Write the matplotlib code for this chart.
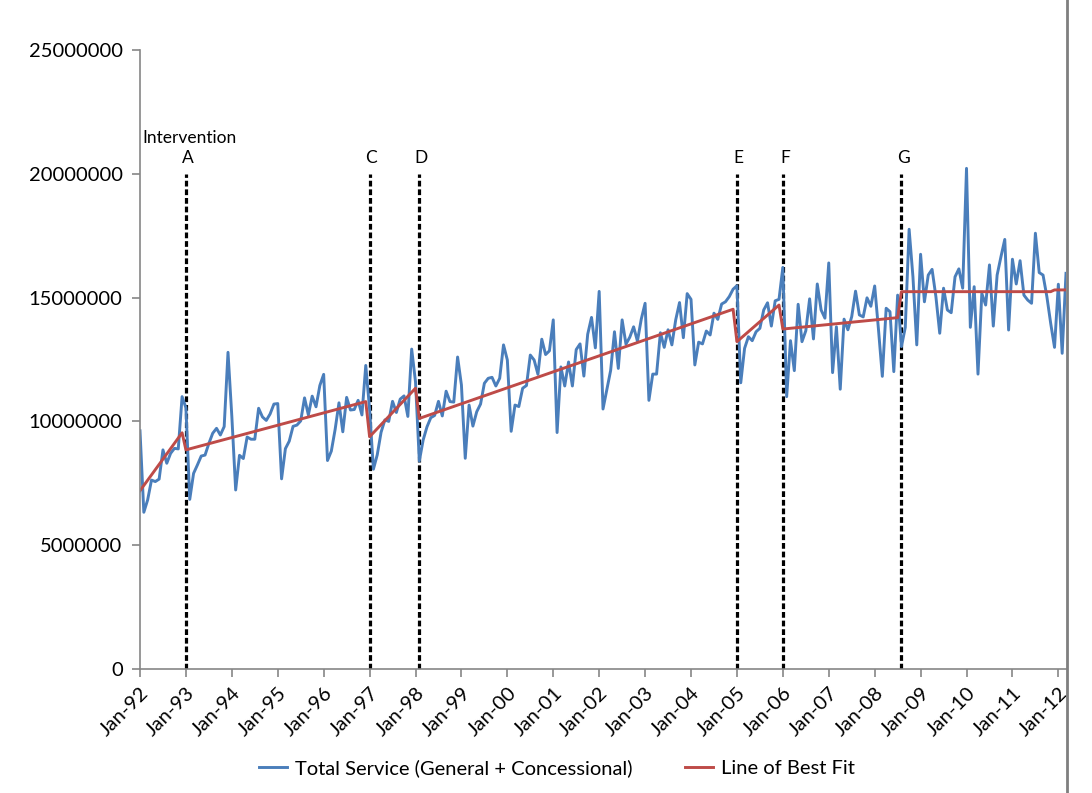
import matplotlib
matplotlib.use('Agg')
import matplotlib.pyplot as plt, numpy as np
from matplotlib.lines import Line2D

plt.rcParams['font.family'] = ['Lato', 'DejaVu Sans']

# monthly totals, Jan-92 .. Mar-12 (millions)
total_service = [
    9.62, 6.33, 6.83, 7.63, 7.57, 7.67, 8.85, 8.31, 8.71, 8.91, 8.89, 11.0,
    10.55, 6.85, 7.90, 8.24, 8.60, 8.64, 9.11, 9.52, 9.72, 9.45, 9.79, 12.79,
    10.2, 7.23, 8.63, 8.50, 9.37, 9.28, 9.28, 10.53, 10.18, 10.04, 10.3, 10.7,
    10.72, 7.68, 8.9, 9.2, 9.8, 9.85, 10.02, 10.95, 10.26, 11.02, 10.59, 11.45,
    11.9, 8.42, 8.8, 9.68, 10.75, 9.58, 10.97, 10.46, 10.48, 10.85, 10.26, 12.26,
    10.5, 8.07, 8.65, 9.56, 10.06, 10.0, 10.81, 10.36, 10.9, 11.03, 10.2, 12.92,
    11.6, 8.4, 9.25, 9.78, 10.15, 10.24, 10.81, 10.22, 11.22, 10.8, 10.78, 12.6,
    11.47, 8.51, 10.66, 9.81, 10.39, 10.70, 11.54, 11.74, 11.78, 11.43, 11.74, 13.09,
    12.48, 9.6, 10.66, 10.6, 11.34, 11.45, 12.68, 12.48, 11.9, 13.32, 12.7, 12.85,
    14.10, 9.55, 12.2, 11.43, 12.4, 11.43, 12.9, 13.13, 11.83, 13.52, 14.2, 12.97,
    15.25, 10.5, 11.27, 12.06, 13.62, 12.14, 14.10, 13.12, 13.4, 13.82, 13.24, 14.13,
    14.77, 10.85, 11.91, 11.91, 13.58, 12.99, 13.7, 13.09, 14.10, 14.8, 13.38, 15.16,
    14.93, 12.28, 13.2, 13.13, 13.65, 13.49, 14.37, 14.12, 14.74, 14.83, 15.04, 15.34,
    15.48, 11.56, 12.95, 13.42, 13.26, 13.62, 13.76, 14.50, 14.79, 13.85, 14.87, 14.93,
    16.22, 11.0, 13.26, 12.05, 14.73, 13.22, 13.66, 14.95, 13.33, 15.55, 14.50, 14.17,
    16.4, 11.97, 13.82, 11.30, 14.13, 13.7, 14.23, 15.26, 14.30, 14.22, 14.99, 14.65,
    15.47, 13.7, 11.82, 14.57, 14.43, 12.01, 15.10, 13.02, 13.8, 17.76, 15.84, 13.09,
    16.75, 14.83, 15.91, 16.14, 15.04, 13.56, 15.38, 14.5, 14.39, 15.84, 16.16, 15.38,
    20.22, 13.80, 15.44, 11.91, 15.17, 14.70, 16.32, 13.85, 15.91, 16.65, 17.35, 13.69,
    16.55, 15.55, 16.49, 15.10, 14.90, 14.77, 17.60, 16.01, 15.91, 15.04, 13.96, 12.99,
    15.54, 12.75, 15.98,
]

# segmented trend: break points (month index) and fitted values (millions)
fit_month = [0, 11, 12, 59, 60, 72, 73, 155, 156, 167, 168, 198, 199, 238, 239, 242]
fit_value = [7.20, 9.54, 8.85, 10.80, 9.38, 11.34, 10.12, 14.53, 13.22, 14.70,
             13.73, 14.19, 15.24, 15.24, 15.31, 15.31]

interv_labels = ['A', 'C', 'D', 'E', 'F', 'G']
interv_month = [12, 60, 73, 156, 168, 199]

tick_labels = ['Jan-92', 'Jan-93', 'Jan-94', 'Jan-95', 'Jan-96', 'Jan-97', 'Jan-98',
               'Jan-99', 'Jan-00', 'Jan-01', 'Jan-02', 'Jan-03', 'Jan-04', 'Jan-05',
               'Jan-06', 'Jan-07', 'Jan-08', 'Jan-09', 'Jan-10', 'Jan-11', 'Jan-12']

y = np.array(total_service) * 1e6
x = np.arange(len(y))

fig = plt.figure(figsize=(10.92, 7.93), dpi=100)
ax = fig.add_axes([140/1092, 124/793, 926/1092, 619/793])

ax.plot(x, y, color='#4A7EBB', lw=2.1, label='Total Service (General + Concessional)')
ax.plot(fit_month, np.array(fit_value) * 1e6, color='#BE4B48', lw=2.1,
        label='Line of Best Fit')

for lab, m in zip(interv_labels, interv_month):
    ax.plot([m, m], [0, 20.0e6], color='black', lw=2.3, ls=(0, (1.8, 0.9)), zorder=1)
    ax.text(m + 0.5, 20.65e6, lab, ha='center', va='center', fontsize=12.5)
ax.text(13.0, 21.45e6, 'Intervention', ha='center', va='center', fontsize=12.5)

ax.set_xlim(0, len(y) - 1)
ax.set_ylim(0, 25e6)
ax.set_yticks(np.arange(0, 25e6 + 1, 5e6))
ax.set_yticklabels([f'{int(v)}' for v in np.arange(0, 25e6 + 1, 5e6)])
ax.set_xticks(np.arange(0, len(y), 12))
ax.set_xticklabels(tick_labels, rotation=45, ha='right', rotation_mode='anchor')

for s in ['top', 'right']:
    ax.spines[s].set_visible(False)
for s in ['left', 'bottom']:
    ax.spines[s].set_color('#868686')
    ax.spines[s].set_linewidth(1.2)
ax.tick_params(axis='both', direction='out', length=6, width=1.2, color='#868686',
               labelsize=14.5)
ax.tick_params(axis='y', pad=6.5)
ax.tick_params(axis='x', pad=5)

# chart border on the right
fig.add_artist(Line2D([1067/1092, 1067/1092], [0, 1], color='#7f7f7f', lw=2))

fig.legend(loc='center', bbox_to_anchor=(557/1092, 25/793), ncol=2, frameon=False,
           fontsize=14.5, handlelength=1.4, handletextpad=0.4, columnspacing=2.6)

fig.savefig('out.png', dpi=100)
